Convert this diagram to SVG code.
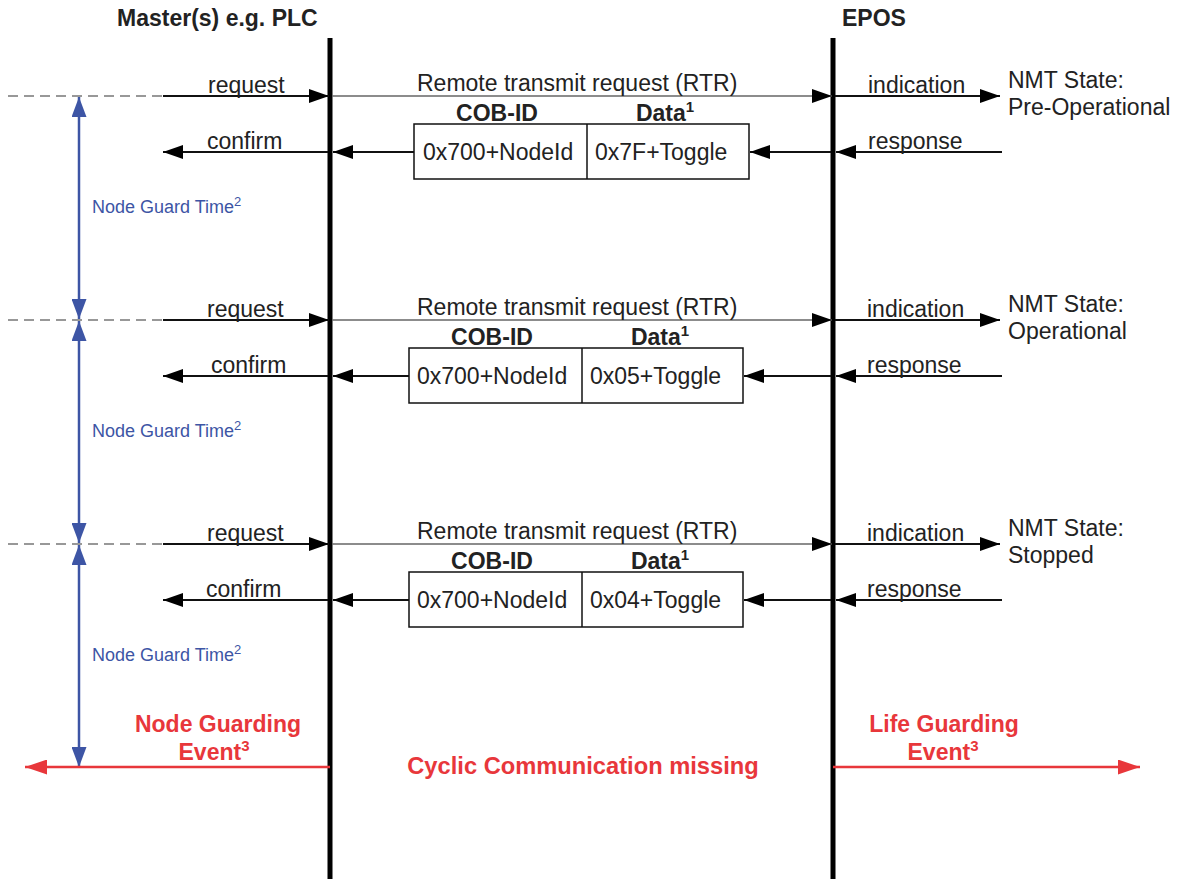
<svg xmlns="http://www.w3.org/2000/svg" width="1177" height="879" viewBox="0 0 1177 879">
  <style>
    text { font-family: "Liberation Sans", Arial, sans-serif; fill: #222; }
    .lbl { font-size: 23px; }
    .hdr { font-size: 23px; font-weight: bold; }
    .cell { font-size: 23px; }
    .colh { font-size: 23px; font-weight: bold; text-anchor: middle; }
    .blue { font-size: 18px; fill: #3d55a5; }
    .red { font-size: 23px; font-weight: bold; fill: #e8373b; text-anchor: middle; }
    .life { stroke: #000; stroke-width: 5; }
    .msg { stroke: #111; stroke-width: 2; fill: none; }
    .rtr { stroke: #666; stroke-width: 1.5; fill: none; }
    .dash { stroke: #777; stroke-width: 1.5; stroke-dasharray: 10 6; fill: none; }
    .box { fill: #fff; stroke: #111; stroke-width: 1.5; }
    .guard { stroke: #3d55a5; stroke-width: 2.5; fill: none; }
    .event { stroke: #e8373b; stroke-width: 2.5; fill: none; }
  </style>
  <defs>
    <marker id="ah" markerUnits="userSpaceOnUse" markerWidth="20" markerHeight="14" refX="20" refY="7" orient="auto-start-reverse">
      <path d="M0,0 L20,7 L0,14 z" fill="#000"/>
    </marker>
    <marker id="ahBlue" markerUnits="userSpaceOnUse" markerWidth="20" markerHeight="15" refX="20" refY="7.5" orient="auto-start-reverse">
      <path d="M0,0 L20,7.5 L0,15 z" fill="#3d55a5"/>
    </marker>
    <marker id="ahRed" markerUnits="userSpaceOnUse" markerWidth="22" markerHeight="15" refX="22" refY="7.5" orient="auto-start-reverse">
      <path d="M0,0 L22,7.5 L0,15 z" fill="#e8373b"/>
    </marker>
  </defs>

  <rect width="1177" height="879" fill="#fff"/>

  <!-- lifelines -->
  <g id="master">
    <text class="hdr" x="117" y="26">Master(s) e.g. PLC</text>
    <line class="life" x1="330" y1="38" x2="330" y2="879"/>
  </g>
  <g id="epos">
    <text class="hdr" x="842" y="26">EPOS</text>
    <line class="life" x1="833" y1="38" x2="833" y2="879"/>
  </g>

  <!-- message frames -->
  <g id="frame1">
    <text class="colh" x="497" y="121">COB-ID</text>
    <text class="colh" x="665" y="121">Data<tspan font-size="15" dy="-9">1</tspan></text>
    <rect class="box" x="414" y="124" width="335" height="55"/>
    <line class="box" x1="587" y1="124" x2="587" y2="179"/>
    <text class="cell" x="423" y="160">0x700+NodeId</text>
    <text class="cell" x="595" y="160">0x7F+Toggle</text>
  </g>
  <g id="frame2">
    <text class="colh" x="492" y="345">COB-ID</text>
    <text class="colh" x="660" y="345">Data<tspan font-size="15" dy="-9">1</tspan></text>
    <rect class="box" x="409" y="348" width="334" height="55"/>
    <line class="box" x1="582" y1="348" x2="582" y2="403"/>
    <text class="cell" x="417" y="384">0x700+NodeId</text>
    <text class="cell" x="590" y="384">0x05+Toggle</text>
  </g>
  <g id="frame3">
    <text class="colh" x="492" y="569">COB-ID</text>
    <text class="colh" x="660" y="569">Data<tspan font-size="15" dy="-9">1</tspan></text>
    <rect class="box" x="409" y="572" width="334" height="55"/>
    <line class="box" x1="582" y1="572" x2="582" y2="627"/>
    <text class="cell" x="417" y="608">0x700+NodeId</text>
    <text class="cell" x="590" y="608">0x04+Toggle</text>
  </g>

  <!-- NMT states -->
  <g id="state1">
    <text class="lbl" x="1008" y="88">NMT State:</text>
    <text class="lbl" x="1008" y="115">Pre-Operational</text>
  </g>
  <g id="state2">
    <text class="lbl" x="1008" y="312">NMT State:</text>
    <text class="lbl" x="1008" y="339">Operational</text>
  </g>
  <g id="state3">
    <text class="lbl" x="1008" y="536">NMT State:</text>
    <text class="lbl" x="1008" y="563">Stopped</text>
  </g>

  <!-- guard time labels -->
  <g id="guard-labels">
    <text class="blue" x="92" y="213">Node Guard Time<tspan font-size="13" dy="-7">2</tspan></text>
    <text class="blue" x="92" y="437">Node Guard Time<tspan font-size="13" dy="-7">2</tspan></text>
    <text class="blue" x="92" y="661">Node Guard Time<tspan font-size="13" dy="-7">2</tspan></text>
  </g>

  <!-- event labels -->
  <g id="node-guarding-event">
    <text class="red" x="218" y="732">Node Guarding</text>
    <text class="red" x="214" y="760">Event<tspan font-size="15" dy="-9">3</tspan></text>
  </g>
  <g id="cyclic-missing">
    <text class="red" x="583" y="774" style="font-size:23.7px">Cyclic Communication missing</text>
  </g>
  <g id="life-guarding-event">
    <text class="red" x="944" y="732">Life Guarding</text>
    <text class="red" x="943" y="760">Event<tspan font-size="15" dy="-9">3</tspan></text>
  </g>

  <!-- connectors -->
  <g id="connectors">
    <!-- cycle 1 -->
    <line class="dash" x1="8" y1="96" x2="163" y2="96"/>
    <line class="msg" x1="163" y1="96" x2="329" y2="96" marker-end="url(#ah)"/>
    <line class="rtr" x1="332" y1="96" x2="832" y2="96" marker-end="url(#ah)"/>
    <line class="msg" x1="835" y1="96" x2="1000" y2="96" marker-end="url(#ah)"/>
    <line class="msg" x1="1002" y1="152" x2="836" y2="152" marker-end="url(#ah)"/>
    <line class="msg" x1="831" y1="152" x2="750" y2="152" marker-end="url(#ah)"/>
    <line class="msg" x1="414" y1="152" x2="333" y2="152" marker-end="url(#ah)"/>
    <line class="msg" x1="328" y1="152" x2="163" y2="152" marker-end="url(#ah)"/>

    <!-- cycle 2 -->
    <line class="dash" x1="8" y1="320" x2="163" y2="320"/>
    <line class="msg" x1="163" y1="320" x2="329" y2="320" marker-end="url(#ah)"/>
    <line class="rtr" x1="332" y1="320" x2="832" y2="320" marker-end="url(#ah)"/>
    <line class="msg" x1="835" y1="320" x2="1000" y2="320" marker-end="url(#ah)"/>
    <line class="msg" x1="1002" y1="376" x2="836" y2="376" marker-end="url(#ah)"/>
    <line class="msg" x1="831" y1="376" x2="744" y2="376" marker-end="url(#ah)"/>
    <line class="msg" x1="409" y1="376" x2="333" y2="376" marker-end="url(#ah)"/>
    <line class="msg" x1="328" y1="376" x2="163" y2="376" marker-end="url(#ah)"/>

    <!-- cycle 3 -->
    <line class="dash" x1="8" y1="544" x2="163" y2="544"/>
    <line class="msg" x1="163" y1="544" x2="329" y2="544" marker-end="url(#ah)"/>
    <line class="rtr" x1="332" y1="544" x2="832" y2="544" marker-end="url(#ah)"/>
    <line class="msg" x1="835" y1="544" x2="1000" y2="544" marker-end="url(#ah)"/>
    <line class="msg" x1="1002" y1="600" x2="836" y2="600" marker-end="url(#ah)"/>
    <line class="msg" x1="831" y1="600" x2="744" y2="600" marker-end="url(#ah)"/>
    <line class="msg" x1="409" y1="600" x2="333" y2="600" marker-end="url(#ah)"/>
    <line class="msg" x1="328" y1="600" x2="163" y2="600" marker-end="url(#ah)"/>

    <!-- guard time intervals -->
    <line class="guard" x1="79" y1="97" x2="79" y2="319" marker-start="url(#ahBlue)" marker-end="url(#ahBlue)"/>
    <line class="guard" x1="79" y1="321" x2="79" y2="543" marker-start="url(#ahBlue)" marker-end="url(#ahBlue)"/>
    <line class="guard" x1="79" y1="545" x2="79" y2="767" marker-start="url(#ahBlue)" marker-end="url(#ahBlue)"/>

    <!-- guarding events -->
    <line class="event" x1="330" y1="767" x2="25" y2="767" marker-end="url(#ahRed)"/>
    <line class="event" x1="833" y1="767" x2="1140" y2="767" marker-end="url(#ahRed)"/>
  </g>

  <!-- message labels -->
  <g id="message-labels">
    <text class="lbl" x="208" y="93">request</text>
    <text class="lbl" x="417" y="91">Remote transmit request (RTR)</text>
    <text class="lbl" x="868" y="93">indication</text>
    <text class="lbl" x="207" y="149">confirm</text>
    <text class="lbl" x="868" y="149">response</text>

    <text class="lbl" x="207" y="317">request</text>
    <text class="lbl" x="417" y="315">Remote transmit request (RTR)</text>
    <text class="lbl" x="867" y="317">indication</text>
    <text class="lbl" x="211" y="373">confirm</text>
    <text class="lbl" x="867" y="373">response</text>

    <text class="lbl" x="207" y="541">request</text>
    <text class="lbl" x="417" y="539">Remote transmit request (RTR)</text>
    <text class="lbl" x="867" y="541">indication</text>
    <text class="lbl" x="206" y="597">confirm</text>
    <text class="lbl" x="867" y="597">response</text>
  </g>
</svg>
